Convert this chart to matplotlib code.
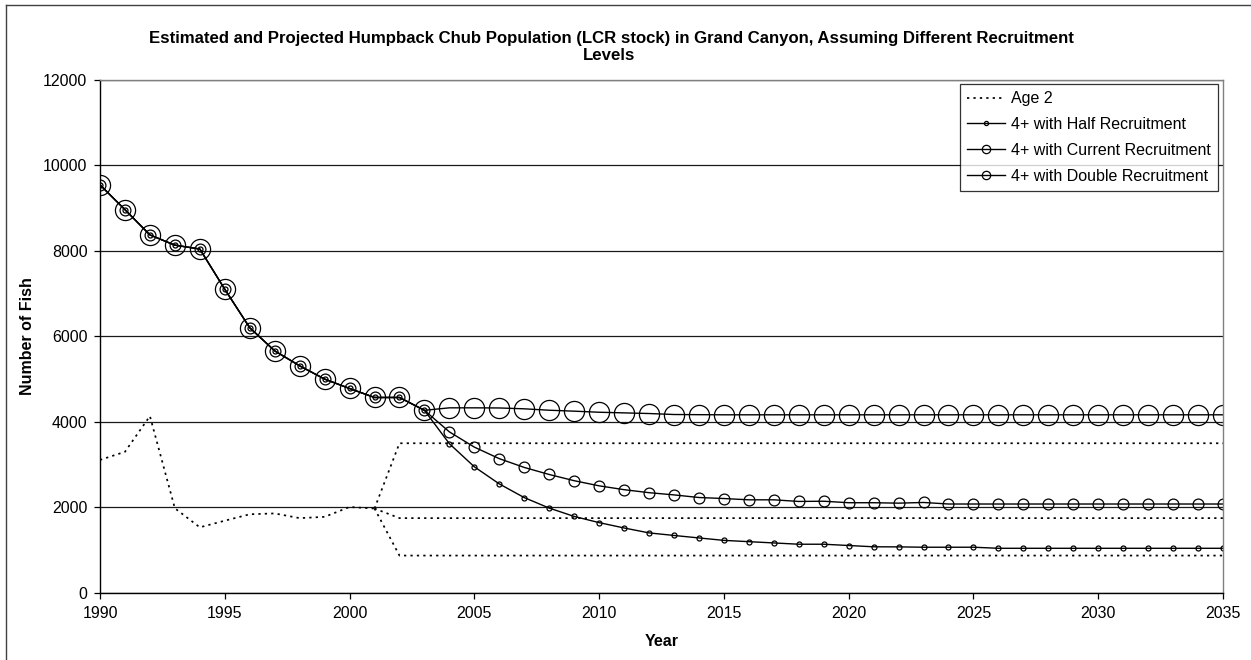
import numpy as np
import matplotlib
matplotlib.use('Agg')
import matplotlib.pyplot as plt
from matplotlib.lines import Line2D

plt.rcParams['font.family'] = ['Liberation Sans', 'DejaVu Sans']

# estimated adult (4+) numbers, shared by all scenarios
hist_years = list(range(1990, 2004))
adult_hist = [9540, 8960, 8370, 8130, 8040, 7100, 6200, 5660, 5310, 5000,
              4780, 4570, 4570, 4270]

# projected adults under each recruitment level
proj_years = list(range(2004, 2036))
half_proj = [3490, 2950, 2550, 2230, 1985, 1790, 1645, 1520, 1405, 1345,
             1287, 1230, 1200, 1170, 1140, 1140, 1110, 1080, 1078, 1070,
             1070, 1070, 1045, 1045, 1045, 1045, 1045, 1045, 1045, 1045,
             1045, 1045]
current_proj = [3766, 3410, 3140, 2935, 2770, 2625, 2505, 2415, 2345, 2293,
                2232, 2208, 2178, 2178, 2140, 2145, 2110, 2110, 2100, 2116,
                2080, 2080, 2080, 2080, 2080, 2080, 2080, 2080, 2080, 2080,
                2080, 2080]
double_proj = [4328, 4328, 4325, 4305, 4272, 4250, 4225, 4210, 4195, 4172,
               4168, 4165, 4165, 4165, 4165, 4165, 4165, 4165, 4165, 4165,
               4165, 4165, 4165, 4165, 4165, 4165, 4165, 4165, 4165, 4165,
               4165, 4165]

# age 2 recruits: estimates then the three assumed levels
age2_years = list(range(1990, 2002))
age2_hist = [3110, 3300, 4135, 1980, 1535, 1690, 1840, 1860, 1750, 1780,
             2010, 1975]
age2_future_years = list(range(2002, 2036))
age2_half = 875
age2_current = 1750
age2_double = 3500

fs = 11.5

fig = plt.figure(figsize=(12.51, 6.6), dpi=100)
ax = fig.add_axes([100 / 1251, 1 - 593 / 660, 1123 / 1251, 513.4 / 660])

# age 2 dotted lines
dot = (0, (1.3, 2.4))
for level in [age2_double, age2_current, age2_half]:
    xs = [age2_years[-1]] + age2_future_years
    ys = [age2_hist[-1]] + [level] * len(age2_future_years)
    ax.plot(xs, ys, color='black', lw=1.25, linestyle=dot)
ax.plot(age2_years, age2_hist, color='black', lw=1.25, linestyle=dot)

all_years = hist_years + proj_years
ax.plot(all_years, adult_hist + half_proj, color='black', lw=1.0,
        marker='o', ms=3.6, mfc='none', mec='black', mew=0.9)
ax.plot(all_years, adult_hist + current_proj, color='black', lw=1.0,
        marker='o', ms=7.8, mfc='none', mec='black', mew=0.9)
ax.plot(all_years, adult_hist + double_proj, color='black', lw=1.0,
        marker='o', ms=14.5, mfc='none', mec='black', mew=0.9)

ax.set_xlim(1990, 2035)
ax.set_ylim(0, 12000)
ax.set_xticks(range(1990, 2036, 5))
ax.set_yticks(range(0, 12001, 2000))
ax.yaxis.grid(True, color='#1a1a1a', lw=0.9)
ax.set_axisbelow(True)
ax.tick_params(axis='both', direction='out', length=4, width=0.9,
               labelsize=fs, color='black')
ax.tick_params(axis='y', pad=5)
ax.tick_params(axis='x', pad=5)
for s in ['left', 'bottom']:
    ax.spines[s].set_color('black')
    ax.spines[s].set_linewidth(1.0)
for s in ['top', 'right']:
    ax.spines[s].set_color('#808080')
    ax.spines[s].set_linewidth(1.0)

ax.set_xlabel('Year', fontsize=fs, fontweight='bold', labelpad=9.5)
ax.set_ylabel('Number of Fish', fontsize=fs, fontweight='bold', labelpad=6)

fig.text(0.489, 1 - 38 / 660,
         'Estimated and Projected Humpback Chub Population (LCR stock) in Grand Canyon, Assuming Different Recruitment',
         ha='center', va='center', fontsize=12.1, fontweight='bold')
fig.text(0.487, 1 - 56 / 660, 'Levels',
         ha='center', va='center', fontsize=12.1, fontweight='bold')

handles = [
    Line2D([], [], color='black', lw=1.25, linestyle=dot),
    Line2D([], [], color='black', lw=1.0, marker='o', ms=3.0, mfc='none', mew=0.9),
    Line2D([], [], color='black', lw=1.0, marker='o', ms=6.0, mfc='none', mew=0.9),
    Line2D([], [], color='black', lw=1.0, marker='o', ms=6.0, mfc='none', mew=0.9),
]
labels = ['Age 2', '4+ with Half Recruitment', '4+ with Current Recruitment',
          '4+ with Double Recruitment']
leg = fig.legend(handles, labels, loc='upper right',
                 bbox_to_anchor=(1218 / 1251, 1 - 84 / 660),
                 bbox_transform=fig.transFigure, fontsize=fs,
                 frameon=True, fancybox=False, borderaxespad=0,
                 handlelength=2.4, handletextpad=0.35, labelspacing=0.68,
                 borderpad=0.45)
leg.get_frame().set_edgecolor('black')
leg.get_frame().set_linewidth(0.9)

# chart area border
fig.add_artist(Line2D([6 / 1251, 6 / 1251], [0, 1 - 5 / 660],
                      transform=fig.transFigure, color='#404040', lw=1.0))
fig.add_artist(Line2D([6 / 1251, 1], [1 - 5 / 660, 1 - 5 / 660],
                      transform=fig.transFigure, color='#404040', lw=1.0))

fig.savefig('out.png', dpi=100)
